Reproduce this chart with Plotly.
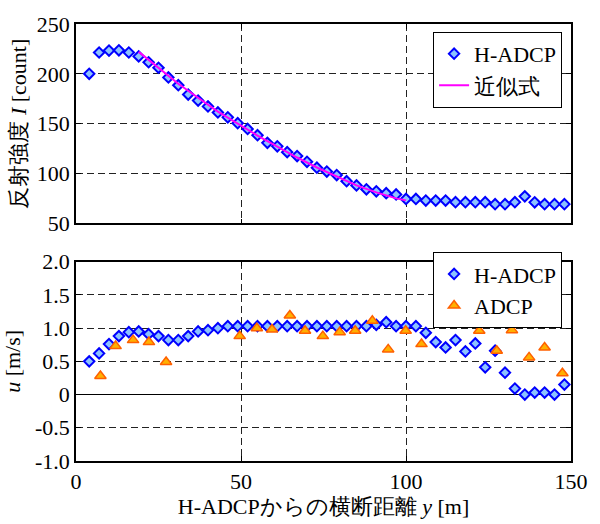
import plotly.graph_objects as go
from plotly.subplots import make_subplots

# Cross-channel distance of the H-ADCP cells [m]
y_hadcp = [4, 7, 10, 13, 16, 19, 22, 25, 28, 31, 34, 37, 40, 43, 46, 49, 52, 55, 58, 61,
           64, 67, 70, 73, 76, 79, 82, 85, 88, 91, 94, 97, 100, 103, 106, 109, 112, 115,
           118, 121, 124, 127, 130, 133, 136, 139, 142, 145, 148]

# Echo intensity I [count]
I_hadcp = [200, 221.4, 223.3, 223.6, 221.4, 217.5, 211.6, 206.1, 196.4, 188.6, 179.2,
           173.1, 167.3, 161.2, 156.3, 150.5, 144.7, 138.4, 130.7, 127.2, 121.4, 117.5,
           111.7, 105.8, 101.9, 98.4, 92.2, 88.0, 84.1, 82.1, 80.2, 78.9, 74.4, 74.4,
           72.8, 72.8, 72.8, 71.2, 71.2, 71.2, 71.2, 69.2, 69.2, 71.2, 77.0, 71.0, 69.2,
           69.2, 69.2]

# Approximation curve of the intensity
y_fit = [19, 25, 31, 37, 43, 49, 55, 61, 67, 73, 79, 85, 91, 97, 100]
I_fit = [222, 206, 190, 176, 162, 150, 138, 127, 116, 106, 97, 88, 81, 75, 73]

# Velocity u [m/s]
u_hadcp = [0.50, 0.62, 0.76, 0.88, 0.94, 0.95, 0.91, 0.88, 0.82, 0.82, 0.88, 0.95, 0.97,
           1.00, 1.03, 1.03, 1.03, 1.03, 1.03, 1.03, 1.03, 1.03, 1.03, 1.03, 1.03, 1.03,
           1.03, 1.03, 1.03, 1.05, 1.09, 1.03, 1.03, 1.03, 0.93, 0.79, 0.71, 0.82, 0.65,
           0.77, 0.41, 0.66, 0.33, 0.09, 0.00, 0.03, 0.03, 0.00, 0.15]

y_adcp = [7.4, 12.0, 17.3, 22.1, 27.3, 49.6, 54.8, 59.4, 64.8, 69.4, 74.8, 79.9, 84.6,
          89.8, 94.6, 99.9, 104.7, 122.2, 127.5, 132.1, 137.3, 142.0, 147.4]
u_adcp = [0.28, 0.73, 0.82, 0.79, 0.49, 0.88, 1.00, 0.98, 1.19, 0.96, 0.88, 0.94, 0.96,
          1.11, 0.68, 0.96, 0.76, 0.96, 0.66, 0.97, 0.56, 0.71, 0.32]

x_ticks = [0, 50, 100, 150]
I_ticks = [50, 100, 150, 200, 250]
u_ticks = [-1.0, -0.5, 0, 0.5, 1.0, 1.5, 2.0]
u_ticktext = ["-1.0", "-0.5", "0", "0.5", "1.0", "1.5", "2.0"]

FONT = "Liberation Serif, Times New Roman, serif"
diamond = dict(symbol="diamond", size=8, color="#8cc2ff",
               line=dict(color="#0000ff", width=2))
triangle = dict(symbol="triangle-up", size=10, color="#ffb000",
                line=dict(color="#ff6000", width=1.5))

fig = make_subplots(rows=2, cols=1, vertical_spacing=0.088)

fig.add_trace(go.Scatter(x=y_hadcp, y=I_hadcp, mode="markers", marker=diamond,
                         name="H-ADCP", legend="legend"), row=1, col=1)
fig.add_trace(go.Scatter(x=y_fit, y=I_fit, mode="lines",
                         line=dict(color="#ff00ff", width=2),
                         name="近似式", legend="legend"), row=1, col=1)
fig.add_trace(go.Scatter(x=y_hadcp, y=u_hadcp, mode="markers", marker=diamond,
                         name="H-ADCP", legend="legend2"), row=2, col=1)
fig.add_trace(go.Scatter(x=y_adcp, y=u_adcp, mode="markers", marker=triangle,
                         name="ADCP", legend="legend2"), row=2, col=1)

axis_common = dict(showline=True, linecolor="black", linewidth=1.5, mirror="ticks",
                   ticks="inside", ticklen=5, tickcolor="black",
                   showgrid=True, gridcolor="#222222", griddash="7px,4px", gridwidth=1,
                   tickfont=dict(family=FONT, size=22, color="black"))

fig.update_xaxes(range=[0, 150], tickvals=x_ticks, zeroline=False, **axis_common)
fig.update_xaxes(showticklabels=False, row=1, col=1)
fig.update_xaxes(title=dict(text="H-ADCPからの横断距離 <i>y</i> [m]",
                            font=dict(family=FONT, size=22, color="black"), standoff=2),
                 row=2, col=1)

fig.update_yaxes(range=[50, 250], tickvals=I_ticks, zeroline=False,
                 title=dict(text="反射強度 <i>I</i> [count]",
                            font=dict(family=FONT, size=22, color="black"), standoff=4),
                 row=1, col=1, **axis_common)
fig.update_yaxes(range=[-1, 2], tickvals=u_ticks, ticktext=u_ticktext,
                 zeroline=True, zerolinecolor="black", zerolinewidth=1,
                 title=dict(text="<i>u</i> [m/s]",
                            font=dict(family=FONT, size=22, color="black"), standoff=8),
                 row=2, col=1, **axis_common)

legend_style = dict(bgcolor="white", bordercolor="black", borderwidth=1,
                    font=dict(family=FONT, size=22, color="black"),
                    xanchor="right", yanchor="top", tracegroupgap=0)

fig.update_layout(
    width=600, height=524,
    margin=dict(l=73, r=19, t=17, b=54),
    font=dict(family=FONT, size=22, color="black"),
    paper_bgcolor="white", plot_bgcolor="white",
    showlegend=True,
    legend=dict(x=0.982, y=0.982, **legend_style),
    legend2=dict(x=0.982, y=0.478, **legend_style),
)

fig.write_html("out.html")
